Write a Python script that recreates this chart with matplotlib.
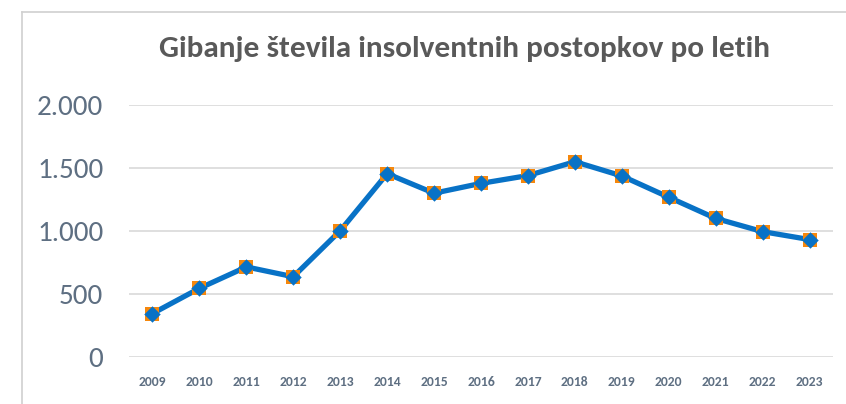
import matplotlib
matplotlib.use("Agg")
import matplotlib.pyplot as plt
from matplotlib.lines import Line2D
from matplotlib.ticker import FuncFormatter

years = ["2009", "2010", "2011", "2012", "2013", "2014", "2015", "2016",
         "2017", "2018", "2019", "2020", "2021", "2022", "2023"]
postopki = [345, 545, 715, 637, 1002, 1455, 1300, 1378, 1440, 1550,
            1437, 1268, 1100, 995, 932]
title = "Gibanje števila insolventnih postopkov po letih"

blue = "#0872C6"
orange = "#F5870C"
label_col = "#5E6F82"

fig = plt.figure(figsize=(8.46, 4.04), dpi=100)
ax = fig.add_axes([129 / 846, 1 - 357 / 404, (833 - 129) / 846, (357 - 105) / 404])

x = list(range(len(years)))
ax.plot(x, postopki, color=blue, lw=3.8, zorder=3)
ax.scatter(x, postopki, marker="s", s=110, color=orange, zorder=4, linewidths=0)
ax.scatter(x, postopki, marker="D", s=70, color=blue, zorder=5, linewidths=0)

ax.set_xlim(-0.5, len(years) - 0.5)
ax.set_ylim(0, 2000)
ax.set_yticks([0, 500, 1000, 1500, 2000])
ax.yaxis.set_major_formatter(FuncFormatter(lambda v, p: f"{int(v):,}".replace(",", ".")))
ax.set_xticks(x)
ax.set_xticklabels(years)
ax.grid(axis="y", color="#D9D9D9", lw=1.2)
ax.set_axisbelow(True)
for s in ax.spines.values():
    s.set_visible(False)
ax.tick_params(length=0)
ax.tick_params(axis="y", pad=18.5, labelcolor=label_col)
ax.tick_params(axis="x", pad=14, labelcolor=label_col)
for t in ax.get_yticklabels():
    t.set_family(["Carlito", "Lato", "DejaVu Sans"])
    t.set_fontsize(21)
for t in ax.get_xticklabels():
    t.set_family(["Carlito", "Lato", "DejaVu Sans"])
    t.set_fontsize(9.8)
    t.set_fontweight("bold")

fig.text(464 / 846, 1 - 49 / 404, title, ha="center", va="center",
         fontsize=22.5, fontweight="bold", color="#595959",
         family=["Carlito", "Lato", "DejaVu Sans"])

# chart frame (only top and left edge visible in the crop)
fy = 1 - 12 / 404
fx = 22 / 846
fig.add_artist(Line2D([fx, fx], [0, fy], transform=fig.transFigure, color="#D0D0D0", lw=1.2))
fig.add_artist(Line2D([fx, 1], [fy, fy], transform=fig.transFigure, color="#D0D0D0", lw=1.2))

fig.savefig("out.png", dpi=100, facecolor="white")
